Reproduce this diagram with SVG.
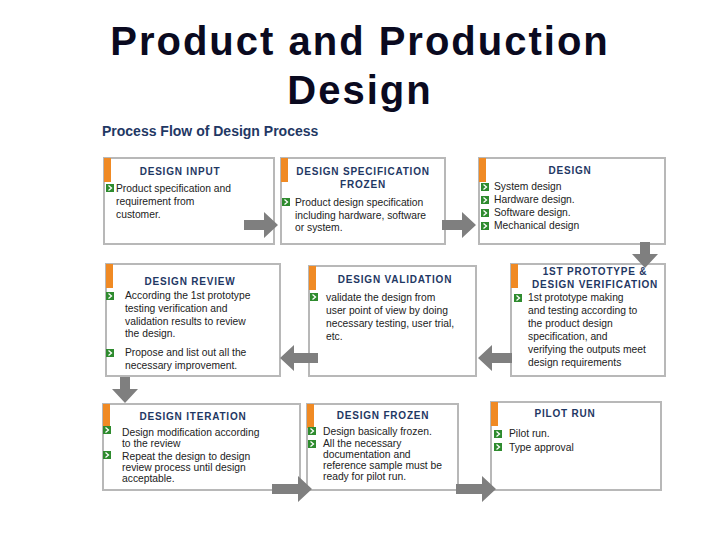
<svg xmlns="http://www.w3.org/2000/svg" width="720" height="540" viewBox="0 0 720 540">
<style>
.box{fill:#fff;stroke:#b8b8b8;stroke-width:2}
.tab{fill:#f08a24}
.h{font-family:"Liberation Sans",Arial,sans-serif;font-weight:bold;font-size:10px;fill:#1f3864;text-anchor:middle;letter-spacing:0.8px}
.t{font-family:"Liberation Sans",Arial,sans-serif;font-size:10.3px;fill:#222}
.b{fill:#2e8b2e}
.arr{fill:#7f7f7f}
</style>
<rect width="720" height="540" fill="#fff"/>
<text x="360" y="55" font-family="Liberation Sans,Arial,sans-serif" font-weight="bold" font-size="40" text-anchor="middle" fill="#0a0a20" letter-spacing="2">Product and Production</text>
<text x="360" y="104" font-family="Liberation Sans,Arial,sans-serif" font-weight="bold" font-size="40" text-anchor="middle" fill="#0a0a20" letter-spacing="2">Design</text>
<text x="102" y="136" font-family="Liberation Sans,Arial,sans-serif" font-weight="bold" font-size="14" fill="#1f3864">Process Flow of Design Process</text>
<defs>
<g id="bul"><rect width="8" height="8" class="b"/><path d="M2.5 1.5 L5.5 4 L2.5 6.5" stroke="#fff" stroke-width="1.3" fill="none"/></g>
</defs>
<g id="n1"><rect class="box" x="104" y="158" width="170" height="86"/><rect class="tab" x="104" y="158" width="7" height="24"/>
<text class="h" x="180" y="175">DESIGN INPUT</text><use href="#bul" x="106" y="184"/>
<text class="t" x="116" y="192">Product specification and</text><text class="t" x="116" y="205">requirement from</text><text class="t" x="116" y="218">customer.</text></g>
<g id="n2"><rect class="box" x="281" y="158" width="164" height="86"/><rect class="tab" x="281" y="158" width="7" height="24"/>
<text class="h" x="363" y="175">DESIGN SPECIFICATION</text><text class="h" x="363" y="188">FROZEN</text><use href="#bul" x="282" y="198"/>
<text class="t" x="295" y="206">Product design specification</text><text class="t" x="295" y="219">including hardware, software</text><text class="t" x="295" y="231">or system.</text></g>
<g id="n3"><rect class="box" x="479" y="158" width="186" height="86"/><rect class="tab" x="479" y="158" width="7" height="24"/>
<text class="h" x="570" y="174">DESIGN</text>
<use href="#bul" x="481" y="183"/><use href="#bul" x="481" y="196"/><use href="#bul" x="481" y="209"/><use href="#bul" x="481" y="222"/>
<text class="t" x="494" y="190">System design</text><text class="t" x="494" y="203">Hardware design.</text><text class="t" x="494" y="216">Software design.</text><text class="t" x="494" y="229">Mechanical design</text></g>
<g id="n4"><rect class="box" x="106" y="264" width="174" height="112"/><rect class="tab" x="106" y="264" width="7" height="24"/>
<text class="h" x="190" y="285">DESIGN REVIEW</text><use href="#bul" x="106" y="292"/>
<text class="t" x="125" y="299">According the 1st prototype</text><text class="t" x="125" y="312">testing verification and</text><text class="t" x="125" y="325">validation results to review</text><text class="t" x="125" y="337">the design.</text>
<use href="#bul" x="106" y="349"/><text class="t" x="125" y="356">Propose and list out all the</text><text class="t" x="125" y="369">necessary improvement.</text></g>
<g id="n5"><rect class="box" x="309" y="266" width="167" height="110"/><rect class="tab" x="309" y="266" width="7" height="24"/>
<text class="h" x="395" y="283">DESIGN VALIDATION</text><use href="#bul" x="310" y="293"/>
<text class="t" x="326" y="301">validate the design from</text><text class="t" x="326" y="314">user point of view by doing</text><text class="t" x="326" y="327">necessary testing, user trial,</text><text class="t" x="326" y="340">etc.</text></g>
<g id="n6"><rect class="box" x="511" y="264" width="154" height="112"/><rect class="tab" x="511" y="264" width="7" height="24"/>
<text class="h" x="595" y="275">1ST PROTOTYPE &amp;</text><text class="h" x="595" y="288">DESIGN VERIFICATION</text><use href="#bul" x="514" y="294"/>
<text class="t" x="528" y="301">1st prototype making</text><text class="t" x="528" y="314">and testing according to</text><text class="t" x="528" y="327">the product design</text><text class="t" x="528" y="340">specification, and</text><text class="t" x="528" y="353">verifying the outputs meet</text><text class="t" x="528" y="366">design requirements</text></g>
<g id="n7"><rect class="box" x="103" y="404" width="197" height="86"/><rect class="tab" x="103" y="404" width="7" height="24"/>
<text class="h" x="193" y="420">DESIGN ITERATION</text><use href="#bul" x="103" y="426"/>
<text class="t" x="122" y="436">Design modification according</text><text class="t" x="122" y="447">to the review</text>
<use href="#bul" x="103" y="451"/><text class="t" x="122" y="460">Repeat the design to design</text><text class="t" x="122" y="471">review process until design</text><text class="t" x="122" y="482">acceptable.</text></g>
<g id="n8"><rect class="box" x="307" y="404" width="151" height="86"/><rect class="tab" x="307" y="404" width="7" height="24"/>
<text class="h" x="383" y="419">DESIGN FROZEN</text><use href="#bul" x="308" y="427"/><use href="#bul" x="308" y="440"/>
<text class="t" x="323" y="435">Design basically frozen.</text><text class="t" x="323" y="447">All the necessary</text><text class="t" x="323" y="458">documentation and</text><text class="t" x="323" y="469">reference sample must be</text><text class="t" x="323" y="480">ready for pilot run.</text></g>
<g id="n9"><rect class="box" x="491" y="402" width="170" height="88"/><rect class="tab" x="491" y="402" width="7" height="24"/>
<text class="h" x="565" y="417">PILOT RUN</text><use href="#bul" x="494" y="430"/><use href="#bul" x="494" y="443"/>
<text class="t" x="509" y="437">Pilot run.</text><text class="t" x="509" y="451">Type approval</text></g>
<g id="connectors">
<path class="arr" d="M244 220 h20 v-8 l14 13 l-14 13 v-8 h-20z"/>
<path class="arr" d="M442 220 h20 v-8 l14 13 l-14 13 v-8 h-20z"/>
<path class="arr" d="M640 242 v12 h-8 l13 14 l13 -14 h-8 v-12z"/>
<path class="arr" d="M512 353 h-20 v-8 l-14 13 l14 13 v-8 h20z"/>
<path class="arr" d="M318 353 h-24 v-8 l-14 13 l14 13 v-8 h24z"/>
<path class="arr" d="M120 377 v12 h-8 l13 14 l13 -14 h-8 v-12z"/>
<path class="arr" d="M272 484 h26 v-8 l14 13 l-14 13 v-8 h-26z"/>
<path class="arr" d="M456 484 h26 v-8 l14 13 l-14 13 v-8 h-26z"/>
</g>
</svg>
